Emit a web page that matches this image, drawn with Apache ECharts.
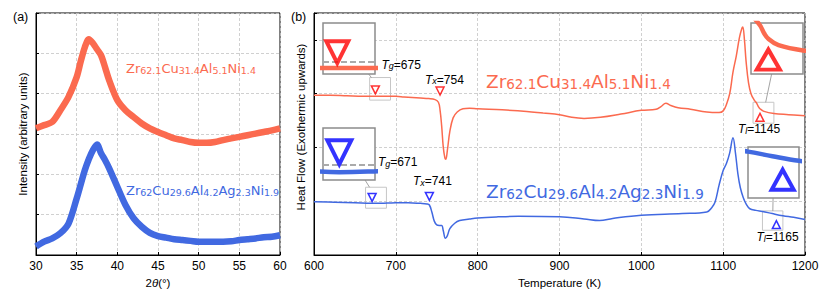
<!DOCTYPE html>
<html><head><meta charset="utf-8">
<script src="https://cdn.jsdelivr.net/npm/echarts@6/dist/echarts.min.js"></script>
<style>html,body{margin:0;padding:0;background:#fff}#c{width:831px;height:298px}</style>
</head><body><div id="c"></div>
<script>
// ---------------- data ----------------
const xrdAngle = [30,31,32,33,34,35,35.5,36,36.5,37,37.5,38,38.5,39,40,41,42,43,44,45,46,47,48,49,50,51,52,53,54,55,56,57,58,59,60];
const xrdRed   = [3.14,3.22,3.30,3.59,3.92,4.41,4.80,5.15,5.35,5.25,5.10,4.95,4.65,4.33,3.84,3.59,3.42,3.26,3.14,3.05,2.97,2.89,2.85,2.80,2.78,2.78,2.80,2.85,2.89,2.93,2.97,3.01,3.05,3.09,3.14];
const xrdBlue  = [0.21,0.33,0.41,0.54,0.78,1.40,1.75,2.10,2.38,2.60,2.74,2.52,2.35,2.15,1.69,1.24,0.91,0.70,0.55,0.47,0.43,0.39,0.37,0.35,0.33,0.33,0.33,0.33,0.34,0.37,0.39,0.41,0.44,0.45,0.49];

const dscRedT  = [600,620,640,660,675,690,700,710,720,730,740,748,752,754,756,758,760,761,763,766,770,775,782,790,800,830,860,880,900,915,930,950,975,1000,1018,1024,1030,1036,1045,1060,1080,1095,1100,1104,1108,1112,1116,1120,1123,1124,1126,1128,1131,1134,1138,1141,1143,1145,1150,1162,1180,1200];
const dscRedHF = [2.97,2.97,2.96,2.95,2.95,2.95,2.95,2.94,2.93,2.92,2.91,2.89,2.84,2.70,2.40,2.00,1.80,1.78,1.95,2.30,2.55,2.66,2.72,2.73,2.72,2.70,2.67,2.64,2.61,2.56,2.54,2.56,2.62,2.69,2.71,2.76,2.82,2.78,2.74,2.71,2.66,2.65,2.68,2.80,3.00,3.40,3.70,4.05,4.22,4.24,4.00,3.60,3.20,3.00,2.88,2.82,2.76,2.72,2.67,2.63,2.61,2.59];
const dscBlueT  = [600,625,650,671,690,700,715,730,738,741,744,747,750,753,756,758,760.6,763,766,772,778,790,800,825,850,900,930,949,965,1000,1050,1080,1086,1090,1095,1100,1104,1108,1112,1115,1118,1121,1124.5,1128,1132.6,1140,1148,1160,1173,1186,1200];
const dscBlueHF = [0.99,0.98,0.97,0.96,0.965,0.97,0.97,0.96,0.95,0.93,0.80,0.63,0.56,0.55,0.55,0.45,0.31,0.36,0.49,0.59,0.64,0.67,0.69,0.71,0.72,0.71,0.67,0.64,0.68,0.74,0.77,0.80,0.88,0.98,1.30,1.57,1.70,1.90,2.18,1.90,1.51,1.25,1.07,0.95,0.86,0.83,0.81,0.77,0.73,0.70,0.66];

// characteristic temperatures (Tg, Tx, Tl) and their marker heights
const redMarkT  = [675, 754, 1145];
const redMarkHF = [3.07, 3.05, 2.56];
const blueMarkT  = [671, 741, 1165];
const blueMarkHF = [1.07, 1.09, 0.565];
const markDir = ['down','down','up'];
const markSub = ['g','x','l'];

// zoom boxes [Tmin,Tmax] x [HFmin,HFmax]
const redTgBoxT = [668, 693.5],  redTgBoxHF = [2.88, 3.30];
const blueTgBoxT = [663, 688.5], blueTgBoxHF = [0.87, 1.26];
const redTlBoxT = [1136.5, 1162], redTlBoxHF = [2.45, 2.84];
const blueTlBoxT = [1148, 1173], blueTlBoxHF = [0.46, 0.82];
// inset vertical ranges
const redTgInsetHF = [2.905, 3.29];
const blueTgInsetHF = [0.917, 1.203];
const redTlInsetHF = [2.45, 2.84];
const blueTlInsetHF = [0.406, 0.85];

// compositions
const redElems = ['Zr','Cu','Al','Ni'];
const redFrac  = ['62.1','31.4','5.1','1.4'];
const blueElems = ['Zr','Cu','Al','Ag','Ni'];
const blueFrac  = ['62','29.6','4.2','2.3','1.9'];

// ---------------- chart ----------------
const FONT = '"Liberation Sans", Arial, Helvetica, sans-serif';
const DJ = '"DejaVu Sans", sans-serif';
const RED = '#fb6a4f', BLUE = '#4169e1', MRED = '#ff0000', MBLUE = '#0000ff';
const pairs = (xs, ys) => xs.map((x, i) => [x, ys[i]]);

const chart = echarts.init(document.getElementById('c'), null, {renderer: 'svg', width: 831, height: 298});

const gridLine = {show: true, lineStyle: {color: '#c4c4c4', type: [3, 2], width: 0.8}};
const axLine = {show: true, onZero: false, lineStyle: {color: '#000', width: 1}};
const axTick = {show: true, inside: true, length: 3, lineStyle: {color: '#000', width: 1}};
const axLabel = {color: '#000', fontSize: 12, fontFamily: FONT, margin: 5, formatter: v => String(v)};
const nameStyle = {color: '#000', fontSize: 11.5, fontFamily: FONT, rich: {i: {fontStyle: 'italic', fontSize: 11.5, fontFamily: FONT, color: '#000'}}};

const insetGrids = [
  {left: 323, top: 23, width: 52, height: 51},
  {left: 323, top: 128, width: 52, height: 52},
  {left: 751, top: 23, width: 52, height: 51},
  {left: 748, top: 147, width: 51, height: 51}
];
const insetX = [redTgBoxT, blueTgBoxT, redTlBoxT, blueTlBoxT];
const insetY = [redTgInsetHF, blueTgInsetHF, redTlInsetHF, blueTlInsetHF];
const mainBoxes = [[redTgBoxT, redTgBoxHF], [blueTgBoxT, blueTgBoxHF], [redTlBoxT, redTlBoxHF], [blueTlBoxT, blueTlBoxHF]];

const grids = [
  {left: 36, top: 13, width: 244, height: 242, show: true, borderColor: '#000', borderWidth: 1, backgroundColor: 'transparent'},
  {left: 314, top: 13, width: 491, height: 242, show: true, borderColor: '#000', borderWidth: 1, backgroundColor: 'transparent'}
].concat(insetGrids.map(g => Object.assign({show: true, backgroundColor: '#fff', borderColor: '#8c8c8c', borderWidth: 1.5, z: 10}, g)));

const xAxes = [
  {gridIndex: 0, type: 'value', min: 30, max: 60, interval: 5, axisLine: axLine, axisTick: axTick, axisLabel: axLabel, splitLine: gridLine,
   name: '2{i|θ}(°)', nameLocation: 'middle', nameGap: 15, nameTextStyle: nameStyle},
  {gridIndex: 1, type: 'value', min: 600, max: 1200, interval: 100, axisLine: axLine, axisTick: axTick, axisLabel: axLabel, splitLine: gridLine,
   name: 'Temperature (K)', nameLocation: 'middle', nameGap: 15, nameTextStyle: nameStyle}
].concat(insetX.map((r, i) => ({gridIndex: i + 2, type: 'value', min: r[0], max: r[1], show: false, z: 11})));

const yAxes = [
  {gridIndex: 0, type: 'value', min: 0, max: 6, interval: 1, axisLine: axLine, axisTick: axTick, axisLabel: {show: false}, splitLine: gridLine,
   name: 'Intensity (arbitrary units)', nameLocation: 'middle', nameGap: 7, nameTextStyle: nameStyle},
  {gridIndex: 1, type: 'value', min: 0, max: 4.5, interval: 1, axisLine: axLine, axisTick: axTick, axisLabel: {show: false}, splitLine: gridLine,
   name: 'Heat Flow (Exothermic upwards)', nameLocation: 'middle', nameGap: 7, nameTextStyle: Object.assign({}, nameStyle, {padding: [0, 0, 0, 14]})}
].concat(insetY.map((r, i) => ({gridIndex: i + 2, type: 'value', min: r[0], max: r[1], show: false, z: 11})));

function boxArea(idx) {
  return {silent: true, itemStyle: {color: 'rgba(0,0,0,0)', borderColor: '#c6c6c6', borderWidth: 1},
    data: idx.map(k => [{coord: [mainBoxes[k][0][0], mainBoxes[k][1][1]]}, {coord: [mainBoxes[k][0][1], mainBoxes[k][1][0]]}])};
}
function markerData(ts, hfs) {
  return ts.map((t, i) => ({value: [t, hfs[i]], symbolRotate: markDir[i] === 'down' ? 180 : 0}));
}

const series = [
  {type: 'line', xAxisIndex: 0, yAxisIndex: 0, data: pairs(xrdAngle, xrdRed), showSymbol: false, smooth: 0.3, lineStyle: {color: RED, width: 6.5}, z: 3},
  {type: 'line', xAxisIndex: 0, yAxisIndex: 0, data: pairs(xrdAngle, xrdBlue), showSymbol: false, smooth: 0.3, lineStyle: {color: BLUE, width: 6.5}, z: 3},
  {type: 'line', xAxisIndex: 1, yAxisIndex: 1, data: pairs(dscRedT, dscRedHF), showSymbol: false, smooth: 0.4, lineStyle: {color: RED, width: 1.5}, markArea: boxArea([0, 2]), z: 3},
  {type: 'line', xAxisIndex: 1, yAxisIndex: 1, data: pairs(dscBlueT, dscBlueHF), showSymbol: false, smooth: 0.4, lineStyle: {color: BLUE, width: 1.5}, markArea: boxArea([1, 3]), z: 3},
  {type: 'scatter', xAxisIndex: 1, yAxisIndex: 1, data: markerData(redMarkT, redMarkHF), symbol: 'triangle', symbolSize: 8,
   itemStyle: {color: 'rgba(255,255,255,0)', borderColor: MRED, borderWidth: 1.5}, z: 4},
  {type: 'scatter', xAxisIndex: 1, yAxisIndex: 1, data: markerData(blueMarkT, blueMarkHF), symbol: 'triangle', symbolSize: 8,
   itemStyle: {color: 'rgba(255,255,255,0)', borderColor: MBLUE, borderWidth: 1.5}, z: 4}
];

// insets: 0 red Tg, 1 blue Tg, 2 red Tl, 3 blue Tl
const insetDefs = [
  {t: dscRedT, hf: dscRedHF, c: RED, mc: MRED, mt: redMarkT[0], mh: redMarkHF[0], rot: 180, grid: 3, size: 22},
  {t: dscBlueT, hf: dscBlueHF, c: BLUE, mc: MBLUE, mt: blueMarkT[0], mh: blueMarkHF[0], rot: 180, grid: 1, size: 24},
  {t: dscRedT, hf: dscRedHF, c: RED, mc: MRED, mt: redMarkT[2], mh: redMarkHF[2], rot: 0, grid: null, size: [23, 20]},
  {t: dscBlueT, hf: dscBlueHF, c: BLUE, mc: MBLUE, mt: blueMarkT[2], mh: blueMarkHF[2], rot: 0, grid: null, size: [22, 20]}
];
insetDefs.forEach((d, i) => {
  const s = {type: 'line', xAxisIndex: i + 2, yAxisIndex: i + 2, data: pairs(d.t, d.hf), showSymbol: false, smooth: 0.4,
    lineStyle: {color: d.c, width: 4.5}, z: 12, clip: true};
  if (d.grid !== null) {
    s.markLine = {silent: true, symbol: 'none', label: {show: false}, lineStyle: {color: '#aaa', type: [6, 3], width: 2}, data: [{yAxis: d.grid}], z: 11};
  }
  series.push(s);
  series.push({type: 'scatter', xAxisIndex: i + 2, yAxisIndex: i + 2, data: [[d.mt, d.mh]], symbol: 'triangle', symbolSize: d.size, symbolRotate: d.rot,
    itemStyle: {color: 'rgba(255,255,255,0)', borderColor: d.mc, borderWidth: 4}, z: 13, clip: false});
});

// ---- text annotations ----
function compound(elems, frac, color, fm, fs, lhm, lhs) {
  const text = elems.map((e, i) => `{m|${e}}{s|${frac[i]}}`).join('');
  return {text, rich: {
    m: {fontFamily: DJ, fontSize: fm, lineHeight: lhm, verticalAlign: 'bottom', fill: color},
    s: {fontFamily: DJ, fontSize: fs, lineHeight: lhs, verticalAlign: 'bottom', fill: color}
  }};
}
const RICH_T = {
  t: {fontFamily: FONT, fontStyle: 'italic', fontSize: 12, lineHeight: 16, verticalAlign: 'bottom', fill: '#000'},
  s: {fontFamily: FONT, fontStyle: 'italic', fontSize: 9, lineHeight: 8, verticalAlign: 'bottom', fill: '#000'},
  n: {fontFamily: FONT, fontSize: 12, lineHeight: 16, verticalAlign: 'bottom', fill: '#000'}
};
function tText(sub, val, x, yb) {
  return {type: 'text', z: 100, silent: true, style: {x, y: yb, text: `{t|T}{s|${sub}}{n|=${val}}`, rich: RICH_T, verticalAlign: 'bottom', align: 'left'}};
}
function cText(c, x, yb) {
  return {type: 'text', z: 100, silent: true, style: Object.assign({x, y: yb, verticalAlign: 'bottom', align: 'left'}, c)};
}

const graphics = [
  {type: 'text', z: 100, style: {x: 13, y: 17, text: '(a)', fontFamily: FONT, fontSize: 12.5, fill: '#000', verticalAlign: 'middle'}},
  {type: 'text', z: 100, style: {x: 291, y: 17, text: '(b)', fontFamily: FONT, fontSize: 12.5, fill: '#000', verticalAlign: 'middle'}},
  cText(compound(redElems, redFrac, RED, 13, 9.5, 18, 10), 126, 75),
  cText(compound(blueElems, blueFrac, BLUE, 13, 9.5, 18, 10), 126, 197),
  cText(compound(redElems, redFrac, RED, 18.5, 13.5, 24, 11.5), 486, 90.5),
  cText(compound(blueElems, blueFrac, BLUE, 18.5, 13.5, 24, 11.5), 486, 200.5),
  tText(markSub[0], redMarkT[0], 381.5, 70.5),
  tText(markSub[1], redMarkT[1], 425, 85.5),
  tText(markSub[2], redMarkT[2], 738, 135),
  tText(markSub[0], blueMarkT[0], 378, 168),
  tText(markSub[1], blueMarkT[1], 413, 187),
  tText(markSub[2], blueMarkT[2], 756.5, 243)
];

chart.setOption({
  animation: false,
  backgroundColor: '#fff',
  grid: grids, xAxis: xAxes, yAxis: yAxes, series: series, graphic: graphics
});

// connector lines between inset frames and zoom boxes (along the line joining centres)
const conns = [];
insetGrids.forEach((g, i) => {
  const b = mainBoxes[i];
  const p1 = chart.convertToPixel({gridIndex: 1}, [b[0][0], b[1][1]]);
  const p2 = chart.convertToPixel({gridIndex: 1}, [b[0][1], b[1][0]]);
  const A = {x0: g.left, y0: g.top, x1: g.left + g.width, y1: g.top + g.height};
  const B = {x0: Math.min(p1[0], p2[0]), y0: Math.min(p1[1], p2[1]), x1: Math.max(p1[0], p2[0]), y1: Math.max(p1[1], p2[1])};
  const c1 = [(A.x0 + A.x1) / 2, (A.y0 + A.y1) / 2], c2 = [(B.x0 + B.x1) / 2, (B.y0 + B.y1) / 2];
  const d = [c2[0] - c1[0], c2[1] - c1[1]];
  const exitT = (R, c, dx, dy) => {
    let t = Infinity;
    if (dx > 0) t = Math.min(t, (R.x1 - c[0]) / dx); else if (dx < 0) t = Math.min(t, (R.x0 - c[0]) / dx);
    if (dy > 0) t = Math.min(t, (R.y1 - c[1]) / dy); else if (dy < 0) t = Math.min(t, (R.y0 - c[1]) / dy);
    return t;
  };
  const t1 = exitT(A, c1, d[0], d[1]);
  const t2 = 1 - exitT(B, c2, -d[0], -d[1]);
  if (t2 > t1) {
    conns.push({type: 'line', z: 50, silent: true,
      shape: {x1: c1[0] + d[0] * t1, y1: c1[1] + d[1] * t1, x2: c1[0] + d[0] * t2, y2: c1[1] + d[1] * t2},
      style: {stroke: '#8c8c8c', lineWidth: 0.8}});
  }
});
chart.setOption({graphic: graphics.concat(conns)});
</script>
</body></html>
